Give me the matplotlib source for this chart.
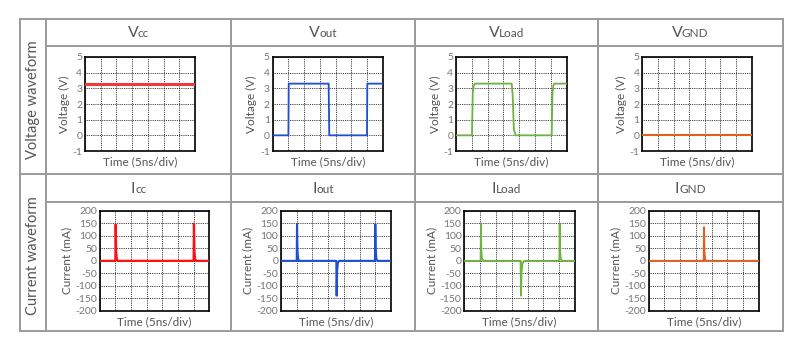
import matplotlib
matplotlib.use("Agg")
import matplotlib.pyplot as plt
from matplotlib.lines import Line2D

W, H = 800, 350
plt.rcParams['font.family'] = ['Lato', 'DejaVu Sans']

# ---- data (time in ns, 5 ns per division) ----
time_range = (0, 35)
time_grid = [0, 5, 10, 15, 20, 25, 30, 35]
volt_ticks = [-1, 0, 1, 2, 3, 4, 5]
curr_ticks = [-200, -150, -100, -50, 0, 50, 100, 150, 200]

vcc_t = [0, 35]
vcc_v = [3.3, 3.3]

vout_t = [0, 5.0, 5.1, 17.8, 18.0, 30.0, 30.1, 35]
vout_v = [0, 0, 3.3, 3.3, 0, 0, 3.3, 3.3]

vload_t = [0, 5.05, 5.3, 5.6, 6.0, 17.6, 17.9, 18.3, 18.8, 30.25, 30.5, 30.8, 31.1, 35]
vload_v = [0, 0, 2.7, 3.2, 3.3, 3.3, 2.6, 0.4, 0, 0, 2.7, 3.2, 3.3, 3.3]

vgnd_t = [0, 35]
vgnd_v = [0, 0]

icc_t = [0, 5.0, 5.1, 5.25, 5.45, 5.8, 30.0, 30.1, 30.25, 30.45, 30.8, 35]
icc_v = [0, 0, 145, 40, 8, 0, 0, 148, 40, 8, 0, 0]

iout_t = [0, 5.0, 5.1, 5.25, 5.45, 5.8, 17.6, 17.7, 17.85, 18.1, 18.5,
          29.9, 30.0, 30.15, 30.35, 30.7, 35]
iout_v = [0, 0, 147, 40, 8, 0, 0, -139, -40, -8, 0,
          0, 147, 40, 8, 0, 0]

iload_t = [0, 5.15, 5.25, 5.4, 5.6, 6.0, 17.8, 17.9, 18.1, 18.4, 19.0,
           30.05, 30.15, 30.3, 30.5, 30.9, 35]
iload_v = [0, 0, 147, 40, 8, 0, 0, -139, -45, -10, 0,
           0, 147, 40, 8, 0, 0]

ignd_t = [0, 17.5, 17.6, 17.75, 17.95, 18.3, 35]
ignd_v = [0, 0, 134, 35, 6, 0, 0]

# ---- layout (pixel boxes: left, top, right, bottom) ----
volt_boxes = [(85, 57, 195, 151), (272.7, 57, 382.7, 151),
              (456, 57, 566.7, 151), (642.3, 57, 751.7, 151)]
curr_boxes = [(99.7, 210.7, 209.3, 311), (281, 210.7, 391, 311),
              (464.3, 210.7, 575, 311), (648.7, 210.7, 758.7, 311)]

col_x = [46, 231, 415, 597.5, 783]
volt_colors = ['#f03a3a', '#1f4fd0', '#6db33f', '#e0601e']
curr_colors = ['#ff1010', '#1f4fd0', '#6db33f', '#e0601e']

volt_series = [(vcc_t, vcc_v, 2.2), (vout_t, vout_v, 1.3),
               (vload_t, vload_v, 1.3), (vgnd_t, vgnd_v, 1.5)]
curr_series = [(icc_t, icc_v, 1.6), (iout_t, iout_v, 1.5),
               (iload_t, iload_v, 1.3), (ignd_t, ignd_v, 1.4)]

volt_titles = [('V', 'cc'), ('V', 'out'), ('V', 'Load'), ('V', 'GND')]
curr_titles = [('I', 'cc'), ('I', 'out'), ('I', 'Load'), ('I', 'GND')]

TXT = '#555555'
TICK = '#777777'
BORDER = '#9a9a9a'

fig = plt.figure(figsize=(W / 100, H / 100), dpi=100)


def fx(x):
    return x / W


def fy(y):
    return 1 - y / H


def hline(y, x0, x1):
    fig.add_artist(Line2D([fx(x0), fx(x1)], [fy(y), fy(y)], color=BORDER,
                          lw=1.4, transform=fig.transFigure))


def vline(x, y0, y1):
    fig.add_artist(Line2D([fx(x), fx(x)], [fy(y0), fy(y1)], color=BORDER,
                          lw=1.4, transform=fig.transFigure))


# table frame
hline(19, 19.5, 783)
hline(46, 46, 783)
hline(174, 19.5, 783)
hline(202, 46, 783)
hline(331, 19.5, 783)
vline(19.5, 19, 331)
for x in col_x:
    vline(x, 19, 331)

fig.text(fx(33), fy(100), 'Voltage waveform', rotation=90, ha='center',
         va='center', fontsize=10.5, color=TXT)
fig.text(fx(33), fy(256), 'Current waveform', rotation=90, ha='center',
         va='center', fontsize=10.5, color=TXT)

renderer = fig.canvas.get_renderer()


def header(cx, cy, main, sub):
    t1 = fig.text(0, 0, main, fontsize=11.5, color=TXT, ha='left', va='baseline')
    t2 = fig.text(0, 0, sub, fontsize=8.5, color=TXT, ha='left', va='baseline')
    w1 = t1.get_window_extent(renderer).width
    w2 = t2.get_window_extent(renderer).width
    gap = -1.2 if main == 'V' else 0.0
    x0 = cx - (w1 + gap + w2) / 2
    t1.set_position((fx(x0), fy(cy)))
    t2.set_position((fx(x0 + w1 + gap), fy(cy)))


def make_axes(box, ticks, ylabel, lo, hi):
    l, t, r, b = box
    ax = fig.add_axes([fx(l), fy(b), (r - l) / W, (b - t) / H])
    ax.set_xlim(*time_range)
    ax.set_ylim(lo, hi)
    ax.set_xticks(time_grid)
    ax.set_yticks(ticks)
    ax.set_xticklabels([])
    ax.set_yticklabels([str(v) for v in ticks])
    ax.tick_params(axis='both', length=0, pad=2, labelsize=7.5, labelcolor=TICK)
    ax.grid(True, color='black', linestyle=(0, (1, 1.2)), linewidth=0.6)
    for s in ax.spines.values():
        s.set_color('black')
        s.set_linewidth(1.2)
    ax.set_xlabel('Time (5ns/div)', fontsize=8.5, color=TXT, labelpad=2)
    ax.set_ylabel(ylabel, fontsize=8.5, color=TXT, labelpad=2)
    return ax


for i in range(4):
    cx = (col_x[i] + col_x[i + 1]) / 2
    header(cx, 37, *volt_titles[i])
    header(cx, 193, *curr_titles[i])

    ax = make_axes(volt_boxes[i], volt_ticks, 'Voltage (V)', -1, 5)
    t, v, lw = volt_series[i]
    ax.plot(t, v, color=volt_colors[i], lw=lw, solid_joinstyle='round', zorder=3)

    ax = make_axes(curr_boxes[i], curr_ticks, 'Current (mA)', -200, 200)
    t, v, lw = curr_series[i]
    ax.plot(t, v, color=curr_colors[i], lw=lw, solid_joinstyle='round', zorder=3)

fig.savefig('out.png', dpi=100)
